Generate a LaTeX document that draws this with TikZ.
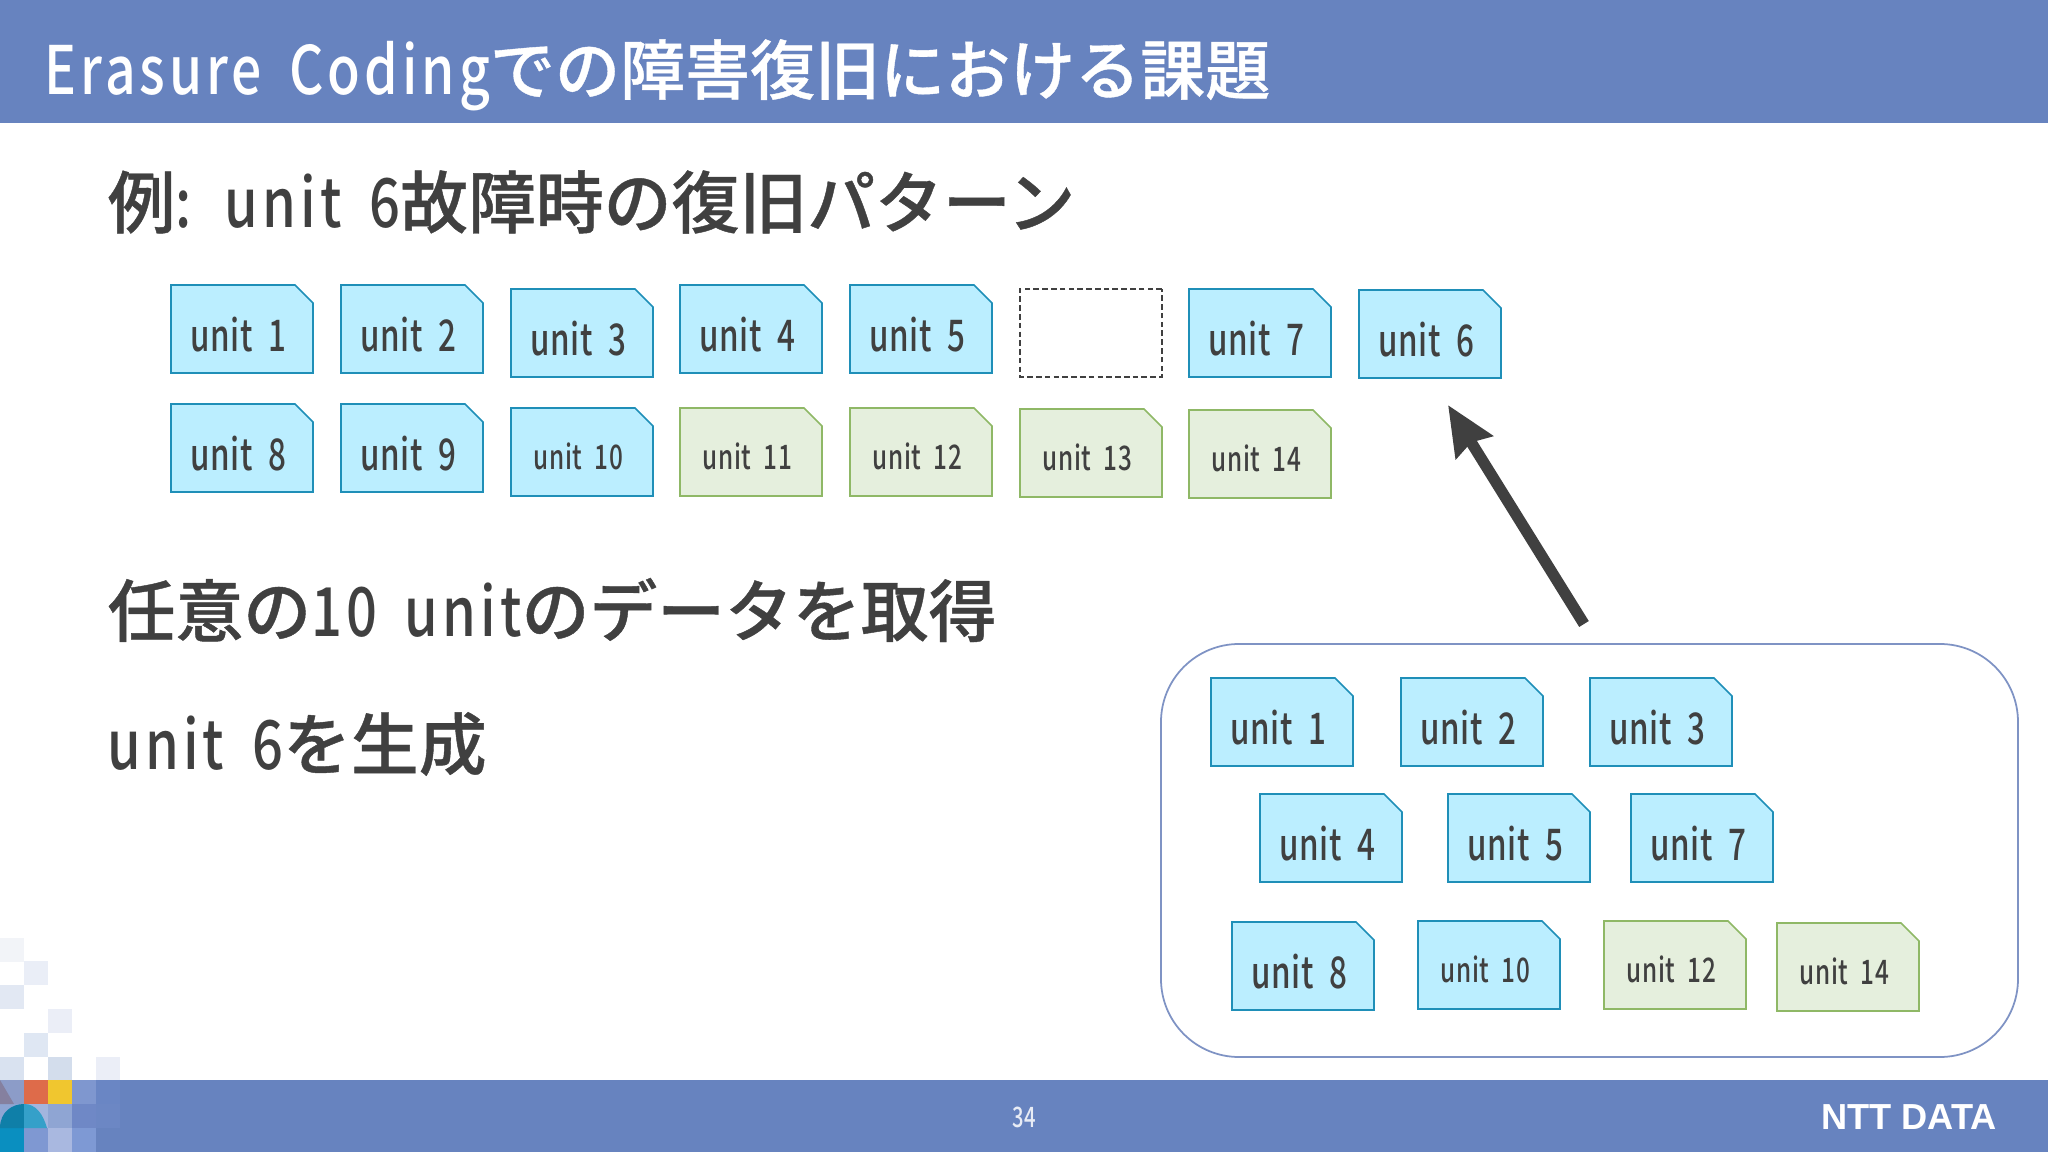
\documentclass[tikz,border=0pt]{standalone}
\usepackage{fontspec}
\setmainfont[FakeStretch=0.72,LetterSpace=1.5,WordSpace=2.1]{Noto Sans CJK JP Medium}
\newfontfamily\jpfont[FakeBold=0.6]{Noto Sans CJK JP Medium}
\newfontfamily\headfont[FakeStretch=0.8,LetterSpace=6,WordSpace=1.7]{Noto Sans CJK JP Medium}
\newfontfamily\logofont{Liberation Sans}
\usetikzlibrary{positioning,calc,arrows.meta,shapes.misc}
\definecolor{barblue}{HTML}{6783BF}
\definecolor{inkgrey}{HTML}{404040}
\definecolor{cyanfill}{HTML}{BBEEFF}
\definecolor{cyanline}{HTML}{1F8FB8}
\definecolor{greenfill}{HTML}{E5EFDD}
\definecolor{greenline}{HTML}{8FB866}
\definecolor{panelline}{HTML}{7F93C4}
\definecolor{archdark}{HTML}{0F7FA8}
\definecolor{archlight}{HTML}{35A0C9}
\definecolor{tilegrey}{HTML}{85809F}
\newcommand{\headtext}[1]{{\jpfont #1}}

\begin{document}
\begin{tikzpicture}
	[   cunit/.style={shape=chamfered rectangle,chamfered rectangle corners=north east,chamfered rectangle xsep=0.052cm,chamfered rectangle angle=45,draw,line width=0.45pt,inner sep=0pt,minimum width=1.42cm,minimum height=0.88cm,text=inkgrey},
		bigunit/.style={font=\fontsize{12.4}{12.4}\selectfont,text height=12.8pt,text depth=0pt},
		smallunit/.style={font=\fontsize{9.6}{9.6}\selectfont,text height=10pt,text depth=0pt},
		blueunit/.style={cunit,draw=cyanline,fill=cyanfill},
		greenunit/.style={cunit,draw=greenline,fill=greenfill},
		heading/.style={anchor=west,inner sep=0pt,text=inkgrey,font=\headfont\fontsize{19.3}{19.3}\selectfont},
	]
	\tikzset{thick arrow/.style={draw=inkgrey,line width=3.2pt,-{Stealth[length=14pt,width=12pt,inset=1.5pt]}}}
	\useasboundingbox (0,0) rectangle (20.48,-11.52);
	
	\fill[barblue] (0,0) rectangle (20.48,-1.23);
	\fill[barblue] (0,-10.80) rectangle (20.48,-11.52);
	
	% mosaic at the lower left
	\foreach \x/\y/\c in {0/9.38/F2F4F8,0.24/9.61/EAEEF7,0/9.85/E2E8F3,0.48/10.09/EBEEF7,0.24/10.33/DFE7F3,0/10.57/D9E2F0,0.48/10.57/D3DDEC,0.96/10.57/EBEEF7,
		0/10.80/8C9CC8,0.24/10.80/DE6B4A,0.48/10.80/F0C62F,0.72/10.80/7F97CF,0.96/10.80/6A86C4,
		0/11.04/8FA5D3,0.24/11.04/A3B5DE,0.48/11.04/8FA5D3,0.72/11.04/6F88C6,0.96/11.04/6C87C4,
		0/11.28/0A8FC0,0.24/11.28/7F98D2,0.48/11.28/A9B8E0,0.72/11.28/7E99D4}
	{
		\definecolor{tilecolor}{HTML}{\c}
		\fill[tilecolor] (\x,-\y) rectangle ++(0.24,-0.24);
	}
	\fill[tilegrey] (0,-10.80) -- (0.14,-11.04) -- (0,-11.04) -- cycle;
	\fill[archdark] (0,-11.28) .. controls (0,-11.12) and (0.12,-11.04) .. (0.24,-11.04) -- (0.24,-11.28) -- cycle;
	\fill[archlight] (0.24,-11.04) .. controls (0.36,-11.04) and (0.43,-11.14) .. (0.47,-11.28) -- (0.24,-11.28) -- cycle;
	
	\node[heading,text=white,font=\headfont\fontsize{19}{19}\selectfont] (title) at (0.44,-0.75) {Erasure Coding\headtext{\fontsize{18.5}{18.5}\selectfont での障害復旧における課題}};
	\node[heading] (head-1) at (1.07,-2.02) {\headtext{例}: unit 6\headtext{故障時の復旧パターン}};
	\node[heading] (head-2) at (1.07,-6.10) {\headtext{任意の}10 unit\headtext{のデータを取得}};
	\node[heading] (head-3) at (1.07,-7.44) {unit 6\headtext{を生成}};
	
	\foreach \n/\x/\y in {1/2.42/3.29,2/4.12/3.29,3/5.82/3.33,4/7.51/3.29,5/9.21/3.29,7/12.60/3.33,6/14.30/3.34,8/2.42/4.48,9/4.12/4.48}
	{
		\node[blueunit,bigunit] (unit-\n) at (\x,-\y) {unit \n\hspace*{2pt}};
	}
	\node[blueunit,smallunit] (unit-10) at (5.82,-4.52) {unit 10\hspace*{2pt}};
	\foreach \n/\x/\y in {11/7.51/4.52,12/9.21/4.52,13/10.91/4.53,14/12.60/4.54}
	{
		\node[greenunit,smallunit] (unit-\n) at (\x,-\y) {unit \n\hspace*{2pt}};
	}
	\node[cunit,draw=inkgrey,dash pattern=on 1.6pt off 0.9pt] (lost) at (10.91,-3.33) {};
	
	\node[draw=panelline,line width=0.5pt,rounded corners=0.78cm,minimum width=8.57cm,minimum height=4.13cm] (panel) at (15.895,-8.505) {};
	
	\foreach \n/\x/\y in {1/12.82/7.22,2/14.72/7.22,3/16.61/7.22,4/13.31/8.38,5/15.19/8.38,7/17.02/8.38,8/13.03/9.66}
	{
		\node[blueunit,bigunit] (p-\n) at (\x,-\y) {unit \n\hspace*{2pt}};
	}
	\node[blueunit,smallunit] (p-10) at (14.89,-9.65) {unit 10\hspace*{2pt}};
	\node[greenunit,smallunit] (p-12) at (16.75,-9.65) {unit 12\hspace*{2pt}};
	\node[greenunit,smallunit] (p-14) at (18.48,-9.67) {unit 14\hspace*{2pt}};
	
	\coordinate (arrow-tail) at (15.84,-6.24);
	\coordinate (arrow-head) at (14.48,-4.05);
	\path[thick arrow] (arrow-tail) -- (arrow-head);
	
	\node[text=white!85!barblue,font=\fontsize{8}{8}\selectfont] (page) at (10.24,-11.17) {34};
	\node[text=white,font=\logofont\bfseries\fontsize{10.3}{10.3}\selectfont] (logo) at (19.09,-11.17) {NTT DATA};
	\end{tikzpicture}
\end{document}
